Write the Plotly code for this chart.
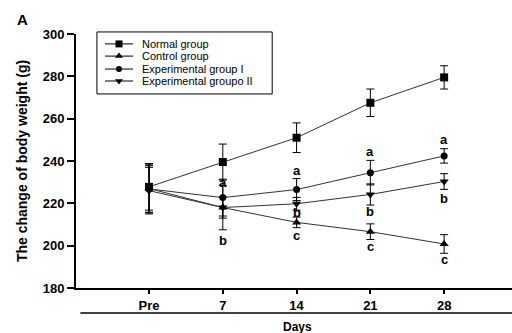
import plotly.graph_objects as go

days = ["Pre", "7", "14", "21", "28"]
normal = [227.8, 239.5, 251.0, 267.5, 279.5]
normal_err = [11.0, 8.5, 7.0, 6.5, 5.5]
control = [227.0, 218.0, 211.0, 206.6, 200.8]
control_err = [11.5, 10.5, 2.5, 3.7, 4.4]
exp1 = [226.8, 222.7, 226.5, 234.5, 242.4]
exp1_err = [11.0, 8.7, 5.2, 5.8, 3.4]
exp2 = [226.0, 218.0, 219.8, 224.2, 230.3]
exp2_err = [11.0, 5.0, 3.0, 5.0, 3.7]

# significance letters: (day, y, letter)
letter_days = ["7", "7", "14", "14", "14", "21", "21", "21", "28", "28", "28"]
letter_y = [230.0, 202.5, 235.5, 215.5, 204.8, 244.5, 216.0, 199.8, 250.0, 222.5, 193.5]
letter_txt = ["a", "b", "a", "b", "c", "a", "b", "c", "a", "b", "c"]

series = [
    ("Normal group", normal, normal_err, "square"),
    ("Control group", control, control_err, "triangle-up"),
    ("Experimental group I", exp1, exp1_err, "circle"),
    ("Experimental groupo II", exp2, exp2_err, "triangle-down"),
]

FONT = "Liberation Sans, Arial"
xpos = list(range(len(days)))
fig = go.Figure()
for name, vals, errs, sym in series:
    fig.add_trace(go.Scatter(
        x=xpos, y=vals, name=name, mode="lines+markers", showlegend=False,
        line=dict(color="#333333", width=1),
        marker=dict(symbol=sym, size=8 if sym != "circle" else 7, color="black"),
        error_y=dict(type="data", array=errs, visible=True, color="black",
                     thickness=1, width=4),
    ))

# custom compact legend (box, sample lines, markers, labels)
leg_y = [0.961, 0.913, 0.862, 0.815]
fig.add_shape(type="rect", xref="paper", yref="paper", x0=0.048, x1=0.450, y0=0.764, y1=1.008,
              line=dict(color="black", width=1), fillcolor="white", layer="below")
for (name, vals, errs, sym), ly in zip(series, leg_y):
    fig.add_shape(type="line", xref="paper", yref="paper", x0=0.0665, x1=0.131, y0=ly, y1=ly,
                  line=dict(color="black", width=1))
    fig.add_trace(go.Scatter(
        x=[0.0986], y=[ly], xaxis="x2", yaxis="y2", mode="markers", showlegend=False,
        hoverinfo="skip",
        marker=dict(symbol=sym, size=7 if sym != "circle" else 6, color="black")))
    fig.add_annotation(xref="paper", yref="paper", x=0.147, y=ly, text=name, showarrow=False,
                       xanchor="left", yanchor="middle",
                       font=dict(family=FONT, size=11, color="black"))

for d, yv, t in zip(letter_days, letter_y, letter_txt):
    fig.add_annotation(x=days.index(d), y=yv, text=t, showarrow=False,
                       font=dict(family=FONT, size=13, color="black", weight="bold"))

fig.add_annotation(xref="paper", yref="paper", x=0.507, y=-0.152, text="Days",
                   showarrow=False, xanchor="center", yanchor="middle",
                   font=dict(family=FONT, size=12, color="black", weight="bold"))
fig.add_annotation(xref="paper", yref="paper", x=-0.122, y=1.059, text="A",
                   showarrow=False, xanchor="center", yanchor="middle",
                   font=dict(family=FONT, size=15, color="black", weight="bold"))
fig.add_shape(type="line", xref="paper", yref="paper", x0=0.01, x1=1.0, y0=-0.098, y1=-0.098,
              line=dict(color="black", width=1.5))

fig.update_xaxes(range=[-0.99, 4.92], tickvals=xpos, ticktext=days,
                 showline=True, linecolor="black", linewidth=2, ticks="outside",
                 ticklen=4, tickwidth=2, tickcolor="black", showgrid=False, zeroline=False,
                 tickfont=dict(family=FONT, size=13, color="black", weight="bold"))
fig.update_yaxes(range=[180, 300], dtick=20,
                 showline=True, linecolor="black", linewidth=2, ticks="outside",
                 ticklen=7, tickwidth=2, tickcolor="black", showgrid=False, zeroline=False,
                 tickfont=dict(family=FONT, size=13, color="black", weight="bold"),
                 title=dict(text="The change of body weight (g)", standoff=12,
                            font=dict(family=FONT, size=14, color="black", weight="bold")))

fig.update_layout(
    width=512, height=333,
    margin=dict(l=76, r=0, t=34, b=45),
    plot_bgcolor="white", paper_bgcolor="white",
    showlegend=False,
    xaxis2=dict(overlaying="x", range=[0, 1], visible=False, fixedrange=True),
    yaxis2=dict(overlaying="y", range=[0, 1], visible=False, fixedrange=True),
)

fig.write_html("out.html", config={"displayModeBar": False},
               post_script="document.body.style.margin='0';")
